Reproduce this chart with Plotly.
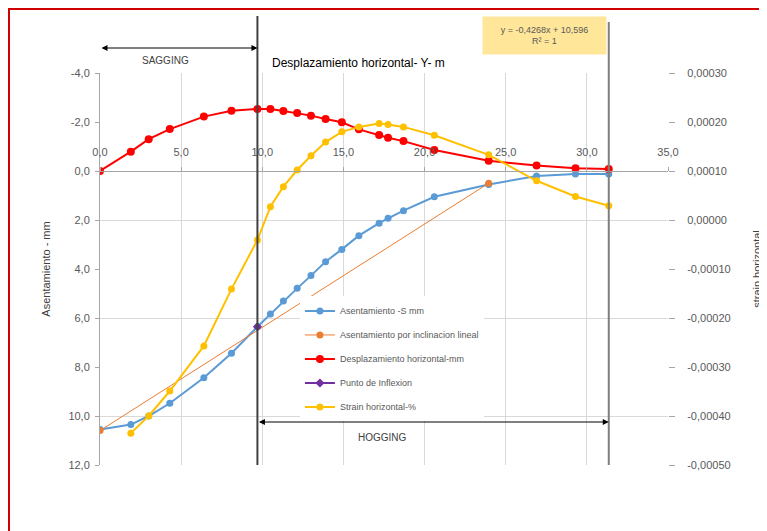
import plotly.graph_objects as go

# ---- data ----
x_pos = [0.0, 1.9, 3.0, 4.3, 6.4, 8.1, 9.7, 10.5, 11.3, 12.15, 13.0, 13.9, 14.9,
         15.95, 17.2, 17.75, 18.7, 20.6, 23.95, 26.9, 29.3, 31.35]
settlement_mm = [10.55, 10.35, 10.0, 9.48, 8.44, 7.44, 6.36, 5.84, 5.31, 4.79, 4.27,
                 3.70, 3.20, 2.64, 2.13, 1.93, 1.62, 1.05, 0.55, 0.20, 0.12, 0.12]
displacement_mm = [0.0, -0.79, -1.30, -1.71, -2.22, -2.46, -2.53, -2.53, -2.45, -2.37,
                   -2.26, -2.12, -1.99, -1.70, -1.47, -1.36, -1.22, -0.86, -0.42,
                   -0.22, -0.11, -0.08]
strain_x = x_pos[1:]
strain_vals = [-0.000435, -0.000400, -0.000349, -0.000257, -0.000141, -0.0000408,
               0.0000272, 0.000068, 0.000102, 0.000131, 0.000159, 0.000180, 0.000190,
               0.000197, 0.000195, 0.000190, 0.000173, 0.000133, 0.000080, 0.000048,
               0.000029]
tilt_x = [0.0, 23.95]
tilt_y = [10.596, 0.5]
inflection_x = [9.7]
inflection_y = [6.36]
grid_vals_left = [-4, 2, 6, 10]
left_ticks = [-4, -2, 0, 2, 4, 6, 8, 10, 12]
right_ticks = [0.0003, 0.0002, 0.0001, 0.0, -0.0001, -0.0002, -0.0003, -0.0004, -0.0005]
x_ticks = [0, 5, 10, 15, 20, 25, 30, 35]
trend_text = "y = -0,4268x + 10,596<br>R² = 1"

names = ["Asentamiento -S mm", "Asentamiento por inclinacion lineal",
         "Desplazamiento horizontal-mm", "Punto de Inflexion", "Strain horizontal-%"]


def fmt(v, nd):
    s = f"{v:.{nd}f}"
    if s.startswith("-") and float(s) == 0:
        s = s[1:]
    return s.replace(".", ",")


fig = go.Figure()
fig.add_trace(go.Scatter(x=x_pos, y=settlement_mm, name=names[0], mode="lines+markers",
                         line=dict(color="#5B9BD5", width=2), marker=dict(size=7, color="#5B9BD5"),
                         legendgroup="a"))
fig.add_trace(go.Scatter(x=tilt_x, y=tilt_y, name=names[1], mode="lines+markers",
                         line=dict(color="#ED7D31", width=1), marker=dict(size=7, color="#ED7D31"),
                         legendgroup="b"))
fig.add_trace(go.Scatter(x=x_pos, y=displacement_mm, name=names[2], mode="lines+markers",
                         line=dict(color="#FF0000", width=2), marker=dict(size=8, color="#FF0000"),
                         legendgroup="c"))
fig.add_trace(go.Scatter(x=inflection_x, y=inflection_y, name=names[3], mode="lines+markers",
                         line=dict(color="#7030A0", width=2),
                         marker=dict(size=7, color="#7030A0", symbol="diamond"),
                         legendgroup="d"))
fig.add_trace(go.Scatter(x=strain_x, y=strain_vals, name=names[4], mode="lines+markers",
                         line=dict(color="#FFC000", width=2), marker=dict(size=7, color="#FFC000"),
                         yaxis="y2", legendgroup="e"))

axis_grey = "#A6A6A6"
tick_font = dict(size=11, color="#595959")

# the page body adds an 8px offset; the plot area is placed at window x 100..668, y 73..465
fig.update_layout(
    width=759, height=523,
    margin=dict(l=92, r=99, t=65, b=66, autoexpand=False),
    paper_bgcolor="white", plot_bgcolor="white",
    separators=",.",
    font=dict(family="Liberation Sans, Arial, sans-serif", color="#404040"),
    xaxis=dict(range=[0, 35], tickmode="array", tickvals=x_ticks,
               ticktext=[fmt(v, 1) for v in x_ticks],
               showgrid=True, gridcolor="#D9D9D9", zeroline=False,
               showline=True, linecolor=axis_grey, linewidth=1,
               anchor="free", position=0.75, side="top", automargin=False,
               ticks="outside", ticklen=4, tickcolor=axis_grey, tickfont=tick_font,
               ticklabelstandoff=7),
    yaxis=dict(range=[12, -4], tickmode="array", tickvals=left_ticks,
               ticktext=[fmt(v, 1) for v in left_ticks],
               showgrid=False, zeroline=False, automargin=False,
               minor=dict(tickmode="array", tickvals=grid_vals_left, showgrid=True,
                          gridcolor="#D9D9D9"),
               showline=True, linecolor=axis_grey, linewidth=1,
               ticks="outside", ticklen=4, tickcolor=axis_grey, tickfont=tick_font,
               ticklabelstandoff=3,
               title=dict(text="Asentamiento - mm", font=dict(size=11, color="#404040"),
                          standoff=15)),
    yaxis2=dict(overlaying="y", side="right", range=[-0.0005, 0.0003],
                tickmode="array", tickvals=right_ticks,
                ticktext=[fmt(v, 5) for v in right_ticks],
                showgrid=False, zeroline=False, showline=False, automargin=False,
                ticks="outside", ticklen=6, tickcolor=axis_grey, tickfont=tick_font,
                ticklabelstandoff=10,
                title=dict(text="strain horizontal", font=dict(size=11, color="#404040"),
                           standoff=23)),
    legend=dict(x=0.352, y=0.43, xanchor="left", yanchor="top", bgcolor="white",
                font=dict(size=9, color="#595959"), tracegroupgap=5, itemwidth=30),
    showlegend=True,
)


def px_to_py(py):
    return (465 - py) / 392.0


def px_to_px(px):
    return (px - 100) / 568.0


x_end = x_pos[-1]
annotations = [
    dict(text="Desplazamiento horizontal- Y- m", x=px_to_px(270), y=px_to_py(63),
         xref="paper", yref="paper", xanchor="left", yanchor="middle", showarrow=False,
         font=dict(size=12, color="#000000")),
    dict(text="SAGGING", x=(inflection_x[0]) / 2 - 0.8, y=px_to_py(60), xref="x", yref="paper",
         xanchor="center", yanchor="middle", showarrow=False, font=dict(size=10, color="#404040")),
    dict(text="", x=inflection_x[0], y=px_to_py(48), ax=0, ay=px_to_py(48),
         xref="x", yref="y domain", axref="x", ayref="y domain", showarrow=True,
         arrowside="end+start", arrowhead=2, arrowsize=1.2, arrowwidth=1, arrowcolor="#000000"),
    dict(text="", x=x_end, y=px_to_py(422), ax=inflection_x[0], ay=px_to_py(422),
         xref="x", yref="y domain", axref="x", ayref="y domain", showarrow=True,
         arrowside="end+start", arrowhead=2, arrowsize=1.2, arrowwidth=1, arrowcolor="#000000"),
    dict(text="HOGGING", x=17.4, y=px_to_py(437), xref="x", yref="paper",
         xanchor="center", yanchor="middle", showarrow=False, font=dict(size=10, color="#404040")),
    dict(text=trend_text, x=px_to_px(544), y=px_to_py(36), xref="paper", yref="paper",
         xanchor="center", yanchor="middle", showarrow=False, bgcolor="#FFE699",
         width=121, height=35, font=dict(size=9, color="#595959")),
]
fig.update_layout(annotations=annotations)

shapes = [
    dict(type="line", xref="x", yref="paper", x0=inflection_x[0], x1=inflection_x[0],
         y0=0, y1=px_to_py(16), line=dict(color="#404040", width=2)),
    dict(type="line", xref="x", yref="paper", x0=x_end, x1=x_end,
         y0=0, y1=px_to_py(22), line=dict(color="#7F7F7F", width=2)),
    dict(type="line", xref="paper", yref="paper", x0=px_to_px(9), x1=px_to_px(9),
         y0=px_to_py(531), y1=px_to_py(8), line=dict(color="#D00000", width=2)),
    dict(type="line", xref="paper", yref="paper", x0=px_to_px(8), x1=px_to_px(767),
         y0=px_to_py(9), y1=px_to_py(9), line=dict(color="#D00000", width=2)),
]
fig.update_layout(shapes=shapes)

fig.write_html("out.html")
